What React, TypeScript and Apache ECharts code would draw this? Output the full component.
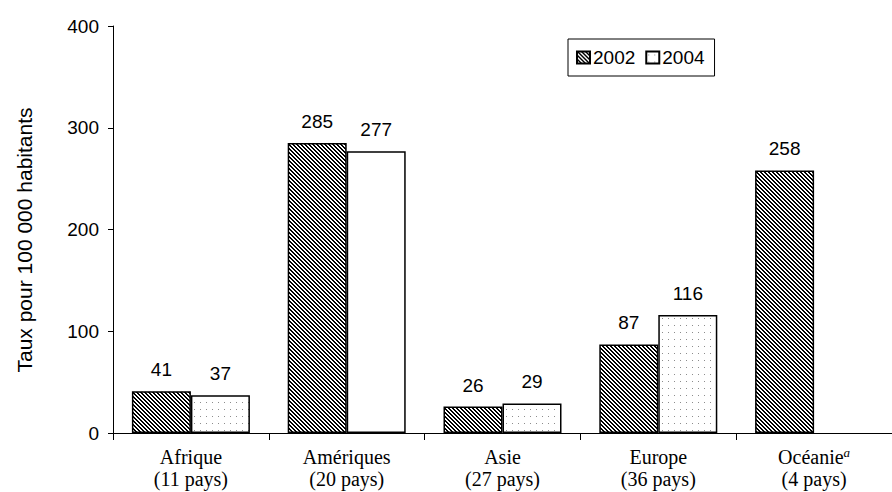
import React, { useEffect, useRef } from "react";
import * as echarts from "echarts";

const categories = ["Afrique", "Amériques", "Asie", "Europe", "Océanie"];
const countryCounts = ["(11 pays)", "(20 pays)", "(27 pays)", "(36 pays)", "(4 pays)"];
const footnoteMarks = ["", "", "", "", "a"];
const seriesNames = ["2002", "2004"];
const values2002 = [41, 285, 26, 87, 258];
const values2004: (number | null)[] = [37, 277, 29, 116, null];
const plainFill2004 = [false, true, false, false, false];
const yTicks = [0, 100, 200, 300, 400];

function makeTile(w: number, h: number, paint: (x: number, y: number) => number[] | null) {
  const c = document.createElement("canvas");
  c.width = w;
  c.height = h;
  const ctx = c.getContext("2d")!;
  const img = ctx.createImageData(w, h);
  for (let y = 0; y < h; y++) {
    for (let x = 0; x < w; x++) {
      const col = paint(x, y) || [255, 255, 255];
      const i = (y * w + x) * 4;
      img.data[i] = col[0];
      img.data[i + 1] = col[1];
      img.data[i + 2] = col[2];
      img.data[i + 3] = 255;
    }
  }
  ctx.putImageData(img, 0, 0);
  return { image: c.toDataURL(), repeat: "repeat", imageWidth: w, imageHeight: h } as any;
}

export default function App() {
  const ref = useRef<HTMLDivElement>(null);
  useEffect(() => {
    if (!ref.current) return;
    const chart = echarts.init(ref.current, null, { renderer: "svg" });
    const hatch = makeTile(4, 4, (x, y) => (((x - y) % 4 + 4) % 4 < 2 ? [0, 0, 0] : null));
    const dots = makeTile(6, 7, (x, y) => (x === 2 && y === 3 ? [140, 140, 140] : null));
    const numFont = "Liberation Sans, Arial, sans-serif";
    const serif = "Liberation Serif, Times New Roman, serif";
    const labelCfg = {
      show: true,
      position: "top",
      distance: 12,
      color: "#000",
      fontSize: 19,
      fontFamily: numFont,
    };
    const option: any = {
      animation: false,
      backgroundColor: "#fff",
      grid: { left: 113, right: -6, top: 26, bottom: 59 },
      legend: {
        data: seriesNames,
        left: 568,
        top: 39,
        orient: "horizontal",
        borderColor: "#000",
        borderWidth: 1,
        padding: [9, 10, 9, 8],
        itemGap: 10,
        itemWidth: 13,
        itemHeight: 12,
        icon: "rect",
        textStyle: { color: "#000", fontSize: 19, fontFamily: numFont, padding: [0, 0, 0, -2] },
      },
      xAxis: {
        type: "category",
        data: categories.map((c, i) =>
          footnoteMarks[i] ? `${c}{sup|${footnoteMarks[i]}}\n${countryCounts[i]}` : `${c}\n${countryCounts[i]}`
        ),
        axisLine: { lineStyle: { color: "#000", width: 1 } },
        axisTick: { show: true, length: 7, lineStyle: { color: "#000" } },
        axisLabel: {
          color: "#000",
          fontSize: 20,
          fontFamily: serif,
          lineHeight: 22,
          margin: 13,
          interval: 0,
          rich: {
            sup: { fontSize: 13, fontStyle: "italic", fontFamily: serif, verticalAlign: "top", lineHeight: 22, padding: [0, 0, 8, 0] },
          },
        },
      },
      yAxis: {
        type: "value",
        min: yTicks[0],
        max: yTicks[yTicks.length - 1],
        interval: 100,
        axisLine: { show: true, lineStyle: { color: "#000", width: 1 } },
        axisTick: { show: true, length: 5, lineStyle: { color: "#000" } },
        splitLine: { show: false },
        axisLabel: { color: "#000", fontSize: 19, fontFamily: numFont, margin: 14 },
      },
      graphic: [
        {
          type: "text",
          x: 24,
          y: 240,
          rotation: Math.PI / 2,
          style: {
            text: "Taux pour 100 000 habitants",
            fill: "#000",
            fontSize: 21,
            fontFamily: numFont,
            align: "center",
            verticalAlign: "middle",
          },
        },
      ],
      series: [
        {
          name: seriesNames[0],
          type: "bar",
          barWidth: 59,
          barGap: "0%",
          itemStyle: { color: hatch, borderColor: "#000", borderWidth: 1.5 },
          label: labelCfg,
          data: values2002,
        },
        {
          name: seriesNames[1],
          type: "bar",
          barWidth: 59,
          barGap: "0%",
          itemStyle: { color: dots, borderColor: "#000", borderWidth: 1.5 },
          label: labelCfg,
          data: values2004.map((v, i) =>
            v == null ? "-" : plainFill2004[i] ? { value: v, itemStyle: { color: "#fff" } } : v
          ),
        },
      ],
    };
    chart.setOption(option);
    return () => chart.dispose();
  }, []);
  return <div ref={ref} style={{ position: "fixed", left: 0, top: 0, width: 892, height: 492 }} />;
}
